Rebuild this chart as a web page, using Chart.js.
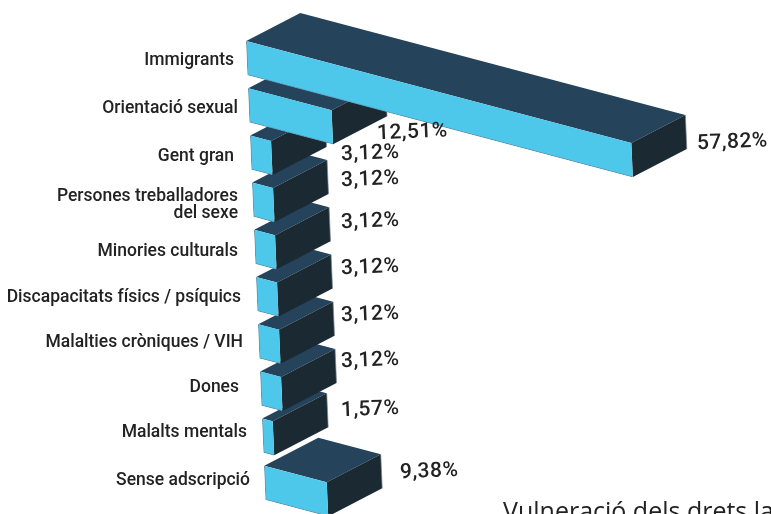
<!DOCTYPE html>
<html><head><meta charset="utf-8">
<style>html,body{margin:0;padding:0;background:#fff;overflow:hidden}canvas{display:block}</style>
<script src="https://cdn.jsdelivr.net/npm/chart.js@4"></script>
</head><body><canvas id="c" width="771" height="514"></canvas>
<script>
const categories = ["Immigrants","Orientació sexual","Gent gran",["Persones treballadores","del sexe"],"Minories culturals","Discapacitats físics / psíquics","Malalties cròniques / VIH","Dones","Malalts mentals","Sense adscripció"];
const values = [57.82,12.51,3.12,3.12,3.12,3.12,3.12,3.12,1.57,9.38];
const titleText = "Vulneració dels drets la";

// text placement (page pixels), separate from the data
const nameRight = [234,238,234,238,238,241,243,239,247,250];
const nameY     = [61,109,157,205,252,298,343,388,433,481];
const valueLeft = [697,377,341,341,341,341,341,341,341,400];
const valueY    = [144,134,155,181,223,269,316,362,411,473];

const FRONT="#4ec8ea", TOP="#25435b", SIDE="#1b2a32", EDGE="#5f96b0", INK="#222222";
const SLOPE=0.265, LEAN=0.0424, DEPTH=[54,-28];

const box3d = {
  id:"box3d",
  beforeDatasetDraw(){ return false; },
  afterDatasetsDraw(chart){
    const ctx=chart.ctx, bars=chart.getDatasetMeta(0).data;
    const x0=chart.chartArea.left, y0=chart.scales.y.getPixelForValue(0);
    const P=(x,y)=>[x+LEAN*(y-y0), y+SLOPE*(x-x0)];
    const poly=(pts,fill)=>{ctx.beginPath();pts.forEach((p,i)=>i?ctx.lineTo(p[0],p[1]):ctx.moveTo(p[0],p[1]));ctx.closePath();ctx.fillStyle=fill;ctx.fill();};
    const back=p=>[p[0]+DEPTH[0],p[1]+DEPTH[1]];
    for(let i=bars.length-1;i>=0;i--){
      const el=bars[i], h=el.height/2;
      const tl=P(el.base,el.y-h), tr=P(el.x,el.y-h), br=P(el.x,el.y+h);
      poly([tl,tr,back(tr),back(tl)],TOP);
      poly([tr,br,back(br),back(tr)],SIDE);
      ctx.beginPath();ctx.moveTo(...back(tr));ctx.lineTo(...back(br));ctx.strokeStyle="rgba(120,135,145,.7)";ctx.lineWidth=1;ctx.stroke();
      ctx.save();
      ctx.transform(1,SLOPE,LEAN,1,-LEAN*y0,-SLOPE*x0);
      el.draw(ctx);
      ctx.restore();
    }
    ctx.save();
    ctx.fillStyle=INK;
    ctx.textBaseline="middle";
    ctx.textAlign="right";
    ctx.font='500 17.5px Roboto';
    ctx.letterSpacing="0px";
    categories.forEach((c,i)=>{
      const lines=Array.isArray(c)?c:[c];
      lines.forEach((t,j)=>ctx.fillText(t,nameRight[i],nameY[i]+(j-(lines.length-1)/2)*17));
    });
    ctx.textAlign="left";
    ctx.font='500 21px Roboto';
    ctx.letterSpacing="0.5px";
    values.forEach((v,i)=>{
      ctx.save();
      ctx.translate(valueLeft[i],valueY[i]);
      ctx.rotate(-0.04);
      ctx.fillText(v.toFixed(2).replace(".",",")+"%",0,0);
      ctx.restore();
    });
    ctx.textBaseline="alphabetic";
    ctx.letterSpacing="0px";
    ctx.font='500 25px "Open Sans"';
    ctx.fillText(titleText,503,520);
    ctx.restore();
  }
};

new Chart(document.getElementById("c"),{
  type:"bar",
  data:{labels:categories,datasets:[{data:values,backgroundColor:FRONT,borderColor:EDGE,borderWidth:{left:1,bottom:1,top:0,right:0},borderSkipped:false,barThickness:34}]},
  plugins:[box3d],
  options:{
    indexAxis:"y",responsive:false,animation:false,
    layout:{padding:{left:247,right:124.4,top:34.4,bottom:7.6}},
    scales:{x:{display:false,min:0,max:60},y:{display:false}},
    plugins:{legend:{display:false},title:{display:false},tooltip:{enabled:false}}
  }
});
</script></body></html>
